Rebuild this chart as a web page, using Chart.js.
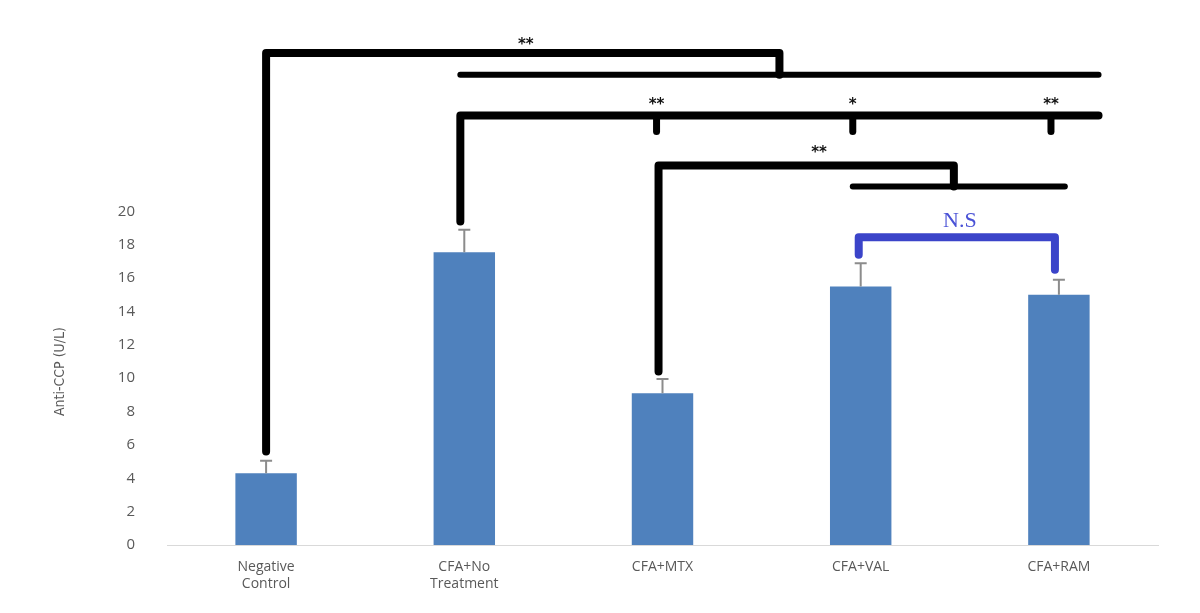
<!DOCTYPE html>
<html>
<head>
<meta charset="utf-8">
<script src="https://cdn.jsdelivr.net/npm/chart.js@4.4.1/dist/chart.umd.min.js"></script>
<style>
  html, body { margin: 0; padding: 0; background: #fff; }
  #wrap { width: 1200px; height: 613px; }
</style>
</head>
<body>
<div id="wrap"><canvas id="grafico"></canvas></div>
<script>
// data
const categories = [["Negative", "Control"], ["CFA+No", "Treatment"], "CFA+MTX", "CFA+VAL", "CFA+RAM"];
const antiCCP = [4.3, 17.55, 9.1, 15.5, 15.0];
const errUpper = [5.05, 18.9, 9.95, 16.9, 15.9];
const yTicks = [0, 2, 4, 6, 8, 10, 12, 14, 16, 18, 20];

// significance brackets: points are [category index, value]
const brackets = [
  { color: "#000", width: 8, pts: [[0, 5.6], [0, 29.5], [2.59, 29.5], [2.59, 28.2]] },
  { color: "#000", width: 6, pts: [[0.98, 28.2], [4.2, 28.2]] },
  { color: "#000", width: 8, pts: [[0.98, 19.4], [0.98, 25.75], [4.2, 25.75]] },
  { color: "#000", width: 7, pts: [[1.97, 25.75], [1.97, 24.8]] },
  { color: "#000", width: 7, pts: [[2.96, 25.75], [2.96, 24.8]] },
  { color: "#000", width: 7, pts: [[3.96, 25.75], [3.96, 24.8]] },
  { color: "#000", width: 8, pts: [[1.98, 10.4], [1.98, 22.75], [3.47, 22.75], [3.47, 21.5]] },
  { color: "#000", width: 6, pts: [[2.96, 21.5], [4.03, 21.5]] },
  { color: "#3b44c9", width: 8, pts: [[2.99, 17.4], [2.99, 18.45], [3.98, 18.45], [3.98, 16.5]] }
];
const marks = [
  { text: "**", at: [1.31, 30.0] },
  { text: "**", at: [1.97, 26.4] },
  { text: "*", at: [2.96, 26.4] },
  { text: "**", at: [3.96, 26.4] },
  { text: "**", at: [2.79, 23.5] }
];
const nsLabel = { text: "N.S", at: [3.5, 19.4] };

const overlay = {
  id: "overlay",
  afterDatasetsDraw(chart) {
    const ctx = chart.ctx, x = chart.scales.x, y = chart.scales.y;
    ctx.save();
    // error bars
    ctx.strokeStyle = "#8c8c8c";
    ctx.lineWidth = 2;
    antiCCP.forEach((v, i) => {
      const px = x.getPixelForValue(i);
      const top = y.getPixelForValue(errUpper[i]);
      ctx.beginPath();
      ctx.moveTo(px, y.getPixelForValue(v));
      ctx.lineTo(px, top);
      ctx.moveTo(px - 6, top);
      ctx.lineTo(px + 6, top);
      ctx.stroke();
    });
    // brackets
    ctx.lineCap = "round";
    ctx.lineJoin = "round";
    brackets.forEach(b => {
      ctx.strokeStyle = b.color;
      ctx.lineWidth = b.width;
      ctx.beginPath();
      b.pts.forEach((p, k) => {
        const px = x.getPixelForValue(p[0]), py = y.getPixelForValue(p[1]);
        if (k === 0) ctx.moveTo(px, py); else ctx.lineTo(px, py);
      });
      ctx.stroke();
    });
    ctx.fillStyle = "#111";
    ctx.font = "bold 15px 'DejaVu Sans'";
    ctx.textAlign = "center";
    ctx.textBaseline = "middle";
    marks.forEach(m => {
      ctx.fillText(m.text, x.getPixelForValue(m.at[0]), y.getPixelForValue(m.at[1]));
    });
    ctx.fillStyle = "#4a52d6";
    ctx.font = "22px 'Liberation Serif'";
    ctx.fillText(nsLabel.text, x.getPixelForValue(nsLabel.at[0]), y.getPixelForValue(nsLabel.at[1]));
    // y title
    ctx.translate(60, y.getPixelForValue(10.4));
    ctx.rotate(-Math.PI / 2);
    ctx.fillStyle = "#595959";
    ctx.font = "14px 'Liberation Sans Narrow', 'DejaVu Sans Condensed', sans-serif";
    ctx.fillText("Anti-CCP (U/L)", 0, 0);
    ctx.restore();
  }
};

new Chart(document.getElementById("grafico"), {
  type: "bar",
  data: {
    labels: categories,
    datasets: [{
      data: antiCCP,
      backgroundColor: "#4f81bd",
      barPercentage: 0.62,
      categoryPercentage: 0.5
    }]
  },
  options: {
    responsive: true,
    maintainAspectRatio: false,
    animation: false,
    layout: { padding: { top: 10, left: 107, right: 42, bottom: 0 } },
    plugins: { legend: { display: false }, tooltip: { enabled: false } },
    scales: {
      x: {
        grid: { display: false },
        border: { display: true, color: "#d9d9d9", width: 1 },
        ticks: {
          color: "#595959",
          font: { family: "'Open Sans', sans-serif", size: 14 },
          maxRotation: 0,
          padding: 6
        },
        afterFit(s) { s.height = 68; }
      },
      y: {
        min: 0,
        max: 30.7,
        grid: { display: false },
        border: { display: false },
        afterBuildTicks(s) { s.ticks = yTicks.map(v => ({ value: v })); },
        ticks: {
          color: "#595959",
          font: { family: "'Open Sans', sans-serif", size: 15 },
          padding: 24
        },
        afterFit(s) { s.width = 60; }
      }
    }
  },
  plugins: [overlay]
});
</script>
</body>
</html>
